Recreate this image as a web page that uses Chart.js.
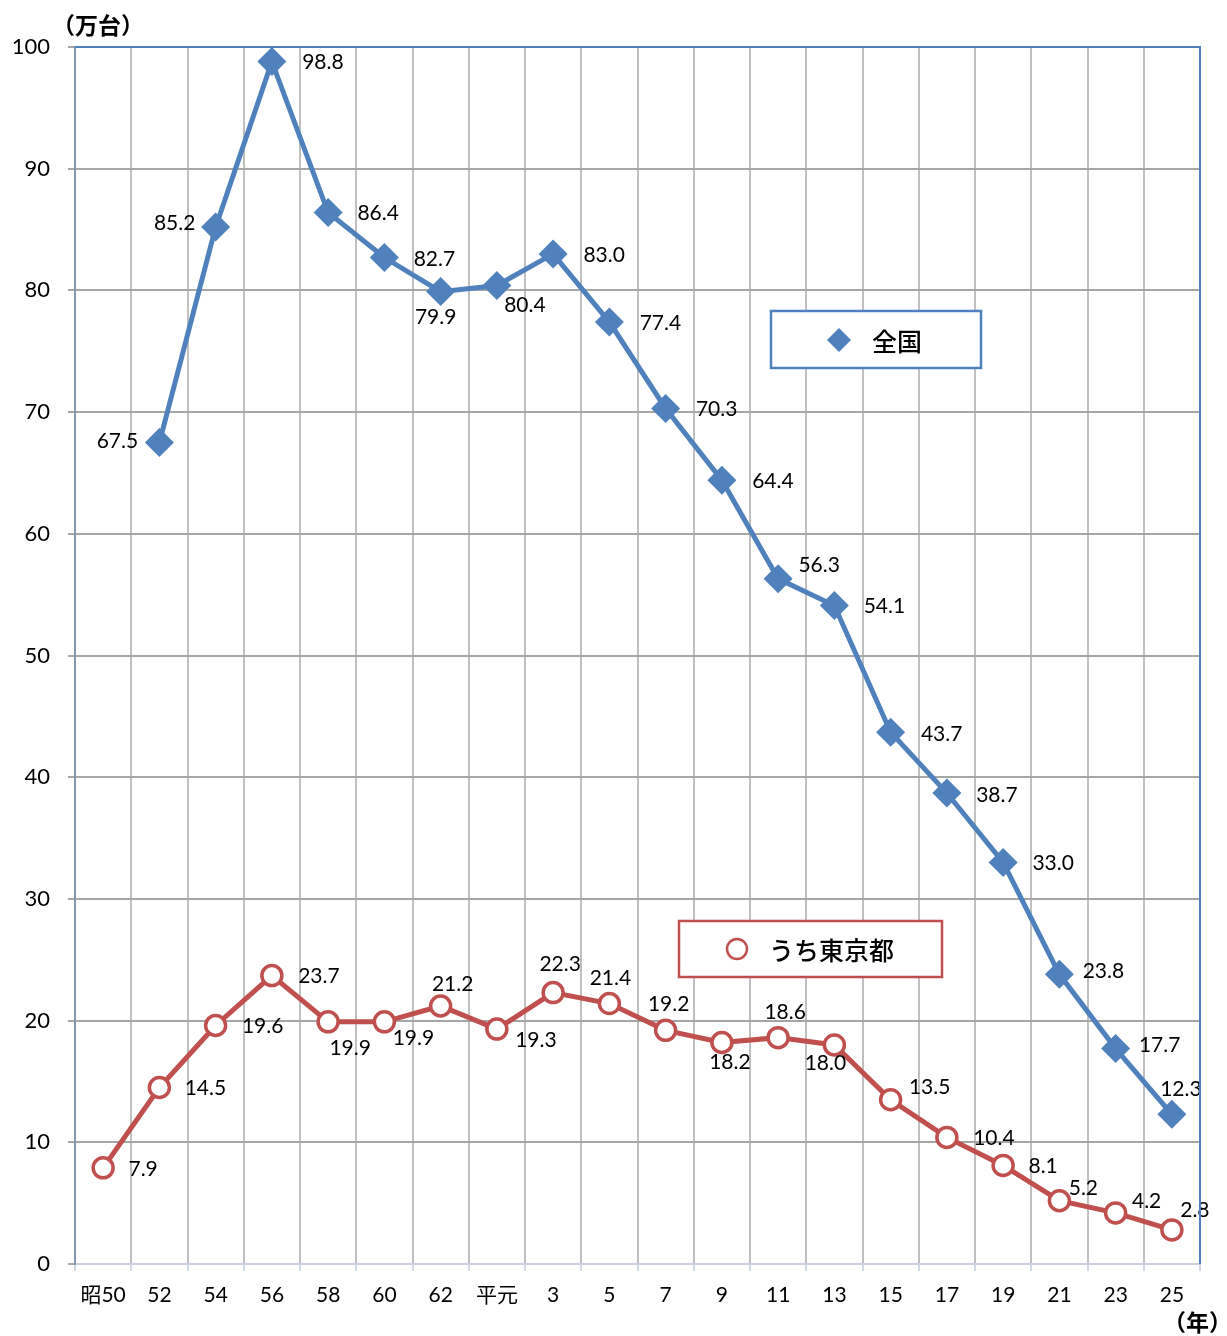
<!DOCTYPE html>
<html>
<head>
<meta charset="utf-8">
<script src="https://cdn.jsdelivr.net/npm/chart.js@4/dist/chart.umd.min.js"></script>
<style>
html,body{margin:0;padding:0;background:#fff;}
#wrap{width:1227px;height:1336px;position:relative;}
</style>
</head>
<body>
<div id="wrap"><canvas id="c" width="1227" height="1336"></canvas></div>
<script>
const categories = ['昭50','52','54','56','58','60','62','平元','3','5','7','9','11','13','15','17','19','21','23','25'];
const nationalValues = [null,67.5,85.2,98.8,86.4,82.7,79.9,80.4,83.0,77.4,70.3,64.4,56.3,54.1,43.7,38.7,33.0,23.8,17.7,12.3];
const tokyoValues = [7.9,14.5,19.6,23.7,19.9,19.9,21.2,19.3,22.3,21.4,19.2,18.2,18.6,18.0,13.5,10.4,8.1,5.2,4.2,2.8];
const yTickValues = [0,10,20,30,40,50,60,70,80,90,100];
const seriesNames = ['全国','うち東京都'];
const yUnit = '（万台）';
const xUnit = '（年）';

// label placement (style): offset of label centre from point, px
const nationalLabelOffset = [null,[-42,-1],[-41,-4],[51,1],[50,1],[50,2],[-5,26],[28,20],[51,1],[51,1],[51,1],[51,1],[41,-14],[50,1],[51,2],[50,2],[50,1],[44,-3],[44,-3],[9,-25]];
const tokyoLabelOffset = [[40,1],[46,1],[47,1],[47,1],[22,26],[29,16],[12,-22],[39,11],[7,-28],[1,-25],[3,-26],[8,20],[7,-25],[-9,18],[39,-12],[47,1],[40,1],[24,-12],[31,-12],[23,-20]];

const FONT = 'Lato, "Noto Sans CJK JP", sans-serif';
const JFONT = '"Noto Sans CJK JP", sans-serif';
const BLUE = '#4f81bd';
const RED = '#c0504d';

const labelsPlugin = {
  id: 'labels',
  afterDatasetsDraw(chart) {
    const ctx = chart.ctx;
    ctx.save();
    ctx.font = '21px ' + FONT;
    ctx.fillStyle = '#000';
    ctx.textAlign = 'center';
    ctx.textBaseline = 'middle';
    const offs = [nationalLabelOffset, tokyoLabelOffset];
    chart.data.datasets.forEach((ds, di) => {
      const meta = chart.getDatasetMeta(di);
      meta.data.forEach((pt, i) => {
        const v = ds.data[i];
        if (v === null || v === undefined) return;
        const o = offs[di][i];
        ctx.fillText(v.toFixed(1), pt.x + o[0], pt.y + o[1]);
      });
    });
    ctx.restore();
  },
  afterDraw(chart) {
    const ctx = chart.ctx;
    const a = chart.chartArea;
    ctx.save();
    // top and right border
    ctx.strokeStyle = BLUE;
    ctx.lineWidth = 2;
    ctx.beginPath();
    ctx.moveTo(a.left, a.top);
    ctx.lineTo(a.right, a.top);
    ctx.lineTo(a.right, a.bottom);
    ctx.stroke();
    // units
    ctx.fillStyle = '#000';
    ctx.font = 'bold 23px ' + JFONT;
    ctx.textAlign = 'left';
    ctx.textBaseline = 'middle';
    ctx.fillText(yUnit, 52, 25);
    ctx.textAlign = 'right';
    ctx.fillText(xUnit, 1232, 1322);
    // legend boxes
    function box(x, y, w, h, color) {
      ctx.fillStyle = '#fff';
      ctx.fillRect(x, y, w, h);
      ctx.strokeStyle = color;
      ctx.lineWidth = 2.5;
      ctx.strokeRect(x, y, w, h);
    }
    box(771, 311, 210, 57, BLUE);
    ctx.fillStyle = BLUE;
    ctx.beginPath();
    ctx.moveTo(839, 328); ctx.lineTo(851, 340); ctx.lineTo(839, 352); ctx.lineTo(827, 340); ctx.closePath();
    ctx.fill();
    ctx.fillStyle = '#000';
    ctx.font = '500 25px ' + JFONT;
    ctx.textAlign = 'left';
    ctx.fillText(seriesNames[0], 872, 341);
    box(679, 921, 263, 56, RED);
    ctx.strokeStyle = RED;
    ctx.lineWidth = 2.5;
    ctx.beginPath();
    ctx.arc(737, 949, 10, 0, Math.PI * 2);
    ctx.stroke();
    ctx.fillStyle = '#000';
    ctx.fillText(seriesNames[1], 769, 950);
    ctx.restore();
  }
};

new Chart(document.getElementById('c'), {
  type: 'line',
  data: {
    labels: categories,
    datasets: [
      {
        label: seriesNames[0],
        data: nationalValues,
        borderColor: BLUE,
        backgroundColor: BLUE,
        borderWidth: 5,
        pointStyle: 'rectRot',
        pointRadius: 14.5,
        pointBorderWidth: 0,
        pointBackgroundColor: BLUE,
        tension: 0
      },
      {
        label: seriesNames[1],
        data: tokyoValues,
        borderColor: RED,
        backgroundColor: '#fff',
        borderWidth: 5,
        pointStyle: 'circle',
        pointRadius: 10,
        pointBorderWidth: 3.5,
        pointBorderColor: RED,
        pointBackgroundColor: '#fff',
        tension: 0
      }
    ]
  },
  options: {
    responsive: false,
    animation: false,
    events: [],
    layout: { padding: { top: 47, right: 27, left: 0, bottom: 0 } },
    plugins: { legend: { display: false }, tooltip: { enabled: false } },
    scales: {
      x: {
        type: 'category',
        offset: true,
        grid: { color: '#c0c0c0', lineWidth: 2, offset: true, tickLength: 7, tickColor: '#d0d8e4' },
        border: { color: '#c8d0dc', width: 2 },
        ticks: { color: '#000', font: { size: 21, family: FONT }, padding: 12, maxRotation: 0, autoSkip: false },
        afterFit(s) { s.height = 72; }
      },
      y: {
        min: 0, max: 100,
        afterBuildTicks(s) { s.ticks = yTickValues.map(v => ({ value: v })); },
        grid: { color: '#a6a6a6', lineWidth: 2, tickLength: 7, tickColor: '#a6a6a6' },
        border: { color: '#8497b0', width: 2 },
        ticks: { color: '#000', font: { size: 22, family: FONT }, padding: 18 },
        afterFit(s) { s.width = 75; }
      }
    }
  },
  plugins: [labelsPlugin]
});
</script>
</body>
</html>
